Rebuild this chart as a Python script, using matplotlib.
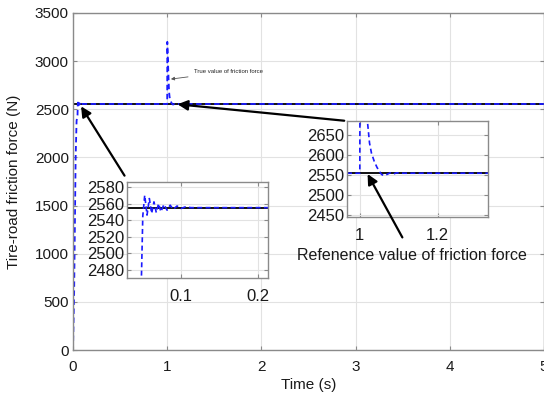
import matplotlib
matplotlib.use("Agg")
import matplotlib.pyplot as plt

plt.rcParams['font.family'] = ['Liberation Sans', 'DejaVu Sans']

# ---- data ----
ref_t = [0.0, 5.0]
ref_v = [2555, 2555]

true_t = [0.0, 0.012, 0.02, 0.028, 0.038, 0.048, 0.0505, 0.053, 0.056, 0.059,
          0.062, 0.065, 0.068, 0.071, 0.074, 0.078, 0.082, 0.086, 0.090, 0.095, 0.100,
          0.106, 0.113, 0.122, 0.135, 1.0, 1.001, 1.008, 1.015, 1.02, 1.025, 1.03,
          1.037, 1.044, 1.05, 1.056, 1.062, 1.07, 1.078, 1.086, 1.095, 1.11, 5.0]
true_v = [0, 600, 1300, 2000, 2380, 2440, 2545, 2570, 2546, 2566,
          2548, 2562, 2549, 2560, 2550, 2559, 2552, 2558, 2553, 2557, 2554,
          2556, 2555, 2555, 2555, 2555, 3200, 3000, 2800, 2680, 2630, 2605,
          2585, 2570, 2560, 2552, 2549, 2552, 2556, 2553, 2556, 2555, 2555]

main_yticks = [0, 500, 1000, 1500, 2000, 2500, 3000, 3500]
main_xticks = [0, 1, 2, 3, 4, 5]
in1_yticks = [2480, 2500, 2520, 2540, 2560, 2580]
in1_xticks = [0.1, 0.2]
in2_yticks = [2450, 2500, 2550, 2600, 2650]
in2_xticks = [1.0, 1.2]

blue = '#1a1aff'
spine_c = '#8a8a8a'
grid_c = '#e2e2e2'
text_c = '#1a1a1a'

fig = plt.figure(figsize=(5.44, 3.99), dpi=100)
ax = fig.add_axes([73/544, 49/399, 471/544, 337/399])

def style(a, fs, xpad=3, ypad=3):
    for s in a.spines.values():
        s.set_color(spine_c)
        s.set_linewidth(1.0)
    a.tick_params(direction='in', length=3, color=spine_c, labelsize=fs,
                  labelcolor=text_c, top=True, right=True)
    a.tick_params(axis='x', pad=xpad)
    a.tick_params(axis='y', pad=ypad)
    a.grid(True, color=grid_c, linewidth=0.8)
    a.set_axisbelow(True)

ax.plot(ref_t, ref_v, color='#111111', lw=1.4)
ax.plot(true_t, true_v, color=blue, lw=1.3, ls=(0, (3, 2)))
ax.set_xlim(0, 5)
ax.set_ylim(0, 3500)
ax.set_xticks(main_xticks)
ax.set_yticks(main_yticks)
style(ax, 11, xpad=7, ypad=3)
ax.set_xlabel('Time (s)', fontsize=11, labelpad=3, color=text_c)
ax.set_ylabel('Tire-road friction force (N)', fontsize=11, labelpad=10, color=text_c)

# small annotation
ax.annotate('True value of friction force', xy=(1.01, 2810), xytext=(1.28, 2890),
            fontsize=4.3, color='#222222', va='center',
            arrowprops=dict(arrowstyle='-|>', color='#555555', lw=0.6,
                            mutation_scale=5))

# inset 1
a1 = fig.add_axes([127/544, 121/399, 141/544, 96/399])
a1.plot(ref_t, ref_v, color='#111111', lw=1.4)
a1.plot(true_t, true_v, color=blue, lw=1.2, ls=(0, (3, 2)))
a1.set_xlim(0.03, 0.213)
a1.set_ylim(2470, 2586)
a1.set_xticks(in1_xticks)
a1.set_yticks(in1_yticks)
style(a1, 12, xpad=8, ypad=2)

# inset 2
a2 = fig.add_axes([347/544, 182/399, 141/544, 96/399])
a2.plot(ref_t, ref_v, color='#111111', lw=1.4)
a2.plot(true_t, true_v, color=blue, lw=1.2, ls=(0, (3, 2)))
a2.set_xlim(0.967, 1.33)
a2.set_ylim(2446, 2685)
a2.set_xticks(in2_xticks)
a2.set_xticklabels(['1', '1.2'])
a2.set_yticks(in2_yticks)
style(a2, 12, xpad=8, ypad=2)

def fp(x, y):
    return (x / 544, 1 - y / 399)

arrow_kw = dict(arrowstyle='-|>', color='black', lw=1.6, mutation_scale=15)
ax.annotate('', xy=(0.07, 2555), xycoords='data',
            xytext=fp(126, 178), textcoords='figure fraction',
            arrowprops=arrow_kw)
ax.annotate('', xy=(1.08, 2555), xycoords='data',
            xytext=fp(347, 121), textcoords='figure fraction',
            arrowprops=arrow_kw)
a2.annotate('Refenence value of friction force', xy=(1.02, 2553), xycoords='data',
            xytext=fp(412, 255), textcoords='figure fraction',
            ha='center', va='center', fontsize=11.5, color=text_c,
            arrowprops=dict(arrowstyle='-|>', color='black', lw=1.6,
                            mutation_scale=15, shrinkB=0, shrinkA=6),
            annotation_clip=False)

fig.savefig('out.png', dpi=100)
